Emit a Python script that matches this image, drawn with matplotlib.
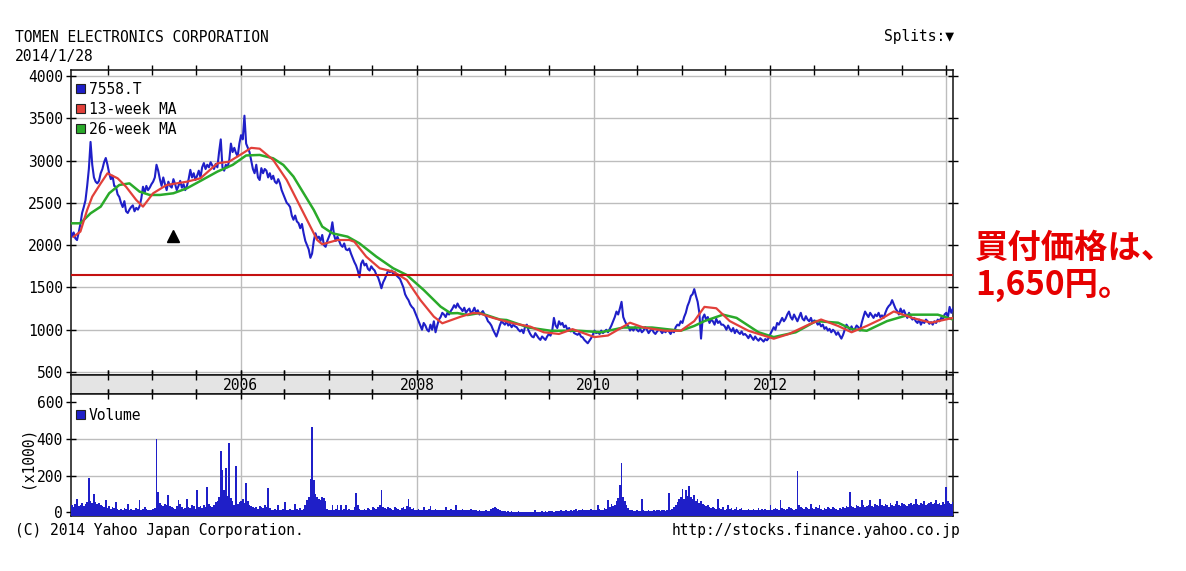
import matplotlib
matplotlib.use("Agg")
import matplotlib.pyplot as plt
import matplotlib.dates as mdates
from matplotlib.patches import Rectangle
import pandas as pd

# ---------------- data ----------------
title = "TOMEN ELECTRONICS CORPORATION"
date_label = "2014/1/28"
ticker = "7558.T"
ma13_label = "13-week MA"
ma26_label = "26-week MA"
volume_label = "Volume"
volume_unit = "(x1000)"
splits_label = "Splits:\u25bc"
copyright_text = "(C) 2014 Yahoo Japan Corporation."
source_text = "http://stocks.finance.yahoo.co.jp"
annotation_lines = ["買付価格は、", "1,650円。"]
offer_price = 1650
end_date = "2014-01-28"
start_date = "2004-01-28"
price_ticks = [500, 1000, 1500, 2000, 2500, 3000, 3500, 4000]
volume_ticks = [0, 200, 400, 600]
volume_grid = [200, 400]
year_labels = ["2006", "2008", "2010", "2012"]
grid_years = [2006, 2008, 2010, 2012, 2014]
split_date = "2005-03-28"
split_level = 2110

# weekly closing prices (yen)
price = [
    2200, 2100, 2150, 2080, 2060, 2150, 2250, 2380, 2450, 2530,
    2700, 2900, 3220, 2950, 2800, 2750, 2730, 2760, 2850, 2900,
    2980, 3030, 2950, 2850, 2780, 2820, 2700, 2690, 2600, 2570,
    2500, 2450, 2520, 2400, 2380, 2420, 2450, 2470, 2400, 2440,
    2420, 2460, 2550, 2690, 2620, 2700, 2650, 2680, 2720, 2750,
    2800, 2950, 2880, 2780, 2700, 2800, 2720, 2650, 2750, 2700,
    2680, 2780, 2720, 2650, 2700, 2760, 2680, 2720, 2650, 2700,
    2780, 2890, 2800, 2850, 2770, 2820, 2880, 2800, 2920, 2970,
    2900, 2950, 2920, 2980, 2940, 2900, 2960, 2920, 3100, 3250,
    2920, 2880, 2950, 2920, 3000, 3200, 3100, 3150, 3090, 3050,
    3200, 3300, 3250, 3530, 3200, 3150, 3100, 3000, 2900, 2850,
    2950, 2800, 2770, 2910, 2850, 2900, 2880, 2800, 2850, 2780,
    2820, 2750, 2730, 2780, 2730, 2650, 2600, 2550, 2500, 2480,
    2450, 2350, 2300, 2350, 2280, 2260, 2200, 2250, 2140, 2050,
    2000, 1950, 1850, 1900, 2050, 2140, 2080, 2100, 2050, 2120,
    2000, 1980, 2050, 2100, 2150, 2270, 2120, 2050, 2100, 2050,
    2000, 1980, 2020, 1950, 1940, 1960, 1900, 1850, 1800, 1760,
    1700, 1620, 1780, 1820, 1760, 1780, 1720, 1700, 1750, 1720,
    1700, 1650, 1620, 1560, 1490, 1560, 1600, 1650, 1700, 1680,
    1700, 1660, 1680, 1640, 1620, 1600, 1550, 1500, 1420, 1380,
    1350, 1300, 1270, 1250, 1200, 1150, 1100, 1050, 1000, 1080,
    1050, 1000, 980, 1060, 1000, 1100, 970, 1050, 1120, 1150,
    1200, 1180, 1150, 1200, 1180, 1220, 1250, 1290, 1260, 1310,
    1270, 1250, 1220, 1260, 1200, 1230, 1250, 1190, 1220, 1260,
    1200, 1230, 1180, 1200, 1220, 1180, 1150, 1100, 1080, 1050,
    1000, 960, 920, 980, 1050, 1100, 1080, 1060, 1100, 1050,
    1070, 1030, 1060, 1040, 1030, 1000, 980, 1000, 960, 1040,
    1060, 990, 950, 920, 910, 960, 930, 900, 880, 920,
    900, 880, 920, 950, 930, 990, 1140, 1050, 1020, 1100,
    1060, 1080, 1030, 1050, 1000, 1020, 980, 1000, 960, 950,
    940, 960, 920, 910, 880, 860, 840, 870, 900, 940,
    990, 960, 970, 950, 990, 960, 980, 1000, 970, 1010,
    1050, 1100, 1150, 1215, 1180, 1250, 1330, 1150, 1100, 1060,
    1040, 990, 1020, 990, 1030, 1000, 980, 1010, 970, 990,
    1030, 1000, 960, 990, 1010, 970, 950, 980, 1000, 990,
    960, 990, 970, 1000, 980, 950, 990, 970, 1030, 1060,
    1050, 1100, 1080, 1150, 1200, 1280, 1330, 1400, 1420, 1480,
    1400, 1330, 1200, 895, 1140, 1180, 1120, 1150, 1080, 1120,
    1100, 1060, 1130, 1080, 1100, 1060, 1060, 1040, 1000, 1050,
    1010, 980, 1020, 960, 1000, 970, 950, 980, 940, 950,
    930, 900, 940, 910, 880, 920, 890, 870, 900, 880,
    860, 890, 875, 900, 950, 990, 1030, 1000, 1080, 1060,
    1100, 1140, 1100, 1130, 1180, 1215, 1150, 1120, 1180, 1140,
    1100, 1150, 1200, 1130, 1110, 1160, 1120, 1100, 1140, 1080,
    1110, 1100, 1060, 1080, 1040, 1060, 1010, 1030, 990, 1010,
    970, 1000, 980, 940, 970, 930, 895, 940, 1000, 1060,
    1030, 1000, 1040, 990, 1010, 1050, 1030, 990, 1080, 1150,
    1215, 1180, 1150, 1200, 1170, 1140, 1180, 1160, 1200, 1150,
    1170, 1140, 1200, 1250, 1280, 1300, 1350, 1300, 1250, 1220,
    1180, 1250, 1200, 1230, 1180, 1140, 1200, 1150, 1120, 1140,
    1100, 1080, 1120, 1060, 1100, 1080, 1120, 1100, 1070, 1090,
    1060, 1100, 1080, 1120, 1100, 1140, 1120, 1180, 1200, 1150,
    1270, 1200, 1250,
]

# weekly volume (x1000 shares)
volume = [
    85, 40, 30, 45, 75, 35, 40, 50, 35, 45,
    55, 186, 60, 50, 100, 55, 45, 50, 40, 35,
    30, 65, 25, 35, 20, 30, 25, 57, 20, 15,
    20, 15, 25, 20, 45, 15, 20, 10, 15, 25,
    20, 66, 15, 20, 30, 20, 15, 10, 15, 20,
    25, 400, 112, 50, 40, 35, 45, 40, 94, 35,
    30, 25, 20, 35, 66, 45, 30, 20, 25, 75,
    30, 25, 40, 35, 20, 121, 30, 35, 25, 40,
    30, 140, 45, 35, 30, 40, 55, 60, 85, 333,
    232, 120, 241, 90, 375, 80, 60, 39, 250, 45,
    57, 60, 70, 50, 158, 60, 40, 35, 30, 25,
    30, 20, 35, 30, 25, 40, 30, 130, 25, 15,
    10, 20, 15, 40, 15, 10, 20, 55, 15, 10,
    20, 15, 10, 45, 20, 15, 25, 10, 20, 40,
    65, 85, 180, 465, 175, 100, 85, 75, 65, 85,
    80, 60, 20, 10, 15, 39, 10, 20, 39, 15,
    39, 10, 20, 39, 15, 20, 10, 15, 30, 103,
    40, 20, 15, 10, 20, 15, 25, 20, 15, 30,
    25, 20, 30, 40, 121, 30, 25, 20, 30, 25,
    20, 15, 30, 25, 20, 15, 25, 30, 20, 35,
    75, 30, 20, 25, 15, 10, 20, 15, 10, 30,
    15, 10, 20, 35, 15, 10, 20, 15, 10, 15,
    10, 15, 30, 10, 15, 20, 10, 15, 40, 10,
    15, 10, 20, 15, 10, 15, 10, 20, 10, 15,
    10, 5, 10, 5, 8, 5, 10, 5, 8, 20,
    25, 30, 25, 20, 10, 5, 8, 5, 3, 5,
    3, 5, 3, 2, 3, 5, 3, 2, 3, 2,
    3, 2, 3, 2, 3, 11, 3, 2, 3, 5,
    3, 5, 3, 5, 8, 5, 3, 5, 8, 5,
    10, 8, 5, 10, 8, 5, 10, 8, 12, 20,
    8, 12, 10, 20, 10, 15, 10, 12, 20, 10,
    15, 10, 39, 20, 15, 10, 25, 20, 66, 30,
    45, 35, 40, 60, 80, 150, 268, 85, 60, 40,
    25, 15, 10, 5, 8, 10, 5, 8, 70, 10,
    8, 5, 10, 8, 5, 10, 8, 12, 10, 8,
    10, 15, 8, 10, 103, 12, 20, 30, 40, 55,
    70, 85, 125, 75, 121, 90, 144, 85, 70, 94,
    60, 75, 50, 60, 45, 40, 35, 40, 30, 25,
    30, 25, 20, 75, 25, 20, 30, 15, 20, 40,
    20, 25, 15, 20, 30, 15, 20, 25, 15, 10,
    15, 20, 10, 15, 20, 10, 15, 25, 15, 20,
    15, 20, 10, 15, 39, 15, 20, 25, 20, 15,
    66, 25, 20, 15, 20, 30, 25, 20, 15, 20,
    226, 40, 30, 25, 20, 30, 25, 20, 48, 25,
    20, 30, 25, 39, 20, 15, 25, 20, 30, 25,
    20, 30, 25, 20, 15, 25, 20, 30, 25, 35,
    30, 112, 35, 30, 25, 40, 35, 30, 66, 40,
    30, 35, 40, 66, 35, 30, 45, 40, 35, 75,
    40, 35, 45, 40, 30, 50, 40, 35, 45, 60,
    40, 35, 50, 45, 40, 35, 45, 50, 40, 45,
    75, 45, 40, 50, 45, 60, 40, 45, 50, 55,
    45, 50, 65, 45, 50, 40, 55, 45, 140, 60,
    50, 45, 55,
]

# moving averages: (week index, value)
ma13_week = [2, 6, 10, 13, 18, 22, 28, 33, 39, 43, 49, 57, 69, 77, 87, 94,
             102, 107, 112, 120, 128, 134, 140, 146, 149, 158, 165, 168, 175,
             183, 191, 199, 207, 215, 220, 231, 238, 242, 250, 262, 272, 280,
             289, 297, 310, 318, 331, 339, 352, 361, 369, 375, 382, 390, 401,
             416, 425, 437, 444, 454, 462, 471, 479, 487, 498, 509, 522]
ma13_value = [2100, 2160, 2416, 2573, 2730, 2849, 2790, 2690, 2534, 2455, 2613,
              2711, 2750, 2790, 2967, 2987, 3086, 3150, 3140, 3007, 2770, 2534,
              2298, 2061, 2010, 2060, 2061, 2040, 1864, 1726, 1687, 1588, 1352,
              1155, 1076, 1155, 1197, 1194, 1140, 1076, 1037, 970, 950, 1007,
              913, 932, 1083, 1026, 988, 988, 1102, 1270, 1254, 1102, 988, 894,
              950, 1064, 1121, 1045, 970, 1045, 1121, 1216, 1140, 1083, 1140]
ma26_week = [1, 6, 12, 18, 23, 29, 35, 41, 47, 53, 61, 69, 78, 87, 96, 104,
             112, 120, 126, 132, 138, 144, 149, 155, 164, 171, 181, 191, 199,
             209, 219, 225, 229, 235, 242, 246, 254, 258, 271, 284, 301, 314,
             327, 344, 361, 369, 375, 386, 394, 407, 416, 429, 441, 454, 462,
             471, 483, 496, 513, 522]
ma26_value = [2258, 2258, 2376, 2455, 2613, 2711, 2730, 2632, 2593, 2593, 2613,
              2672, 2770, 2869, 2948, 3060, 3066, 3026, 2948, 2810, 2613, 2416,
              2219, 2140, 2100, 2021, 1864, 1726, 1647, 1470, 1273, 1194, 1197,
              1174, 1197, 1174, 1121, 1115, 1026, 988, 988, 970, 1026, 1026,
              988, 1045, 1102, 1178, 1140, 970, 913, 970, 1102, 1083, 1007, 988,
              1102, 1178, 1178, 1121]

# ---------------- figure ----------------
W, H = 1186, 571
fig = plt.figure(figsize=(W / 100, H / 100), dpi=100)

MONO = ["DejaVu Sans Mono", "DejaVu Sans"]
FS = 10.5
BLUE = "#1f1fc8"
RED_MA = "#e2403a"
GREEN_MA = "#2aaa2a"
GRID = "#bdbdbd"


def rect(l, t, r, b):
    return [l / W, 1 - b / H, (r - l) / W, (b - t) / H]


def fpos(x, y):
    return x / W, 1 - y / H


dates = pd.date_range(end=end_date, periods=len(price), freq="7D")
ma13_dates = dates[ma13_week]
ma26_dates = dates[ma26_week]
x0, x1 = pd.Timestamp(start_date), pd.Timestamp(end_date)

ax_p = fig.add_axes(rect(70.5, 70, 953, 375))
ax_b = fig.add_axes(rect(70.5, 375, 953, 394))
ax_v = fig.add_axes(rect(70.5, 394, 953, 516))

for ax in (ax_p, ax_b, ax_v):
    ax.set_xlim(x0, x1)
    ax.xaxis.set_major_locator(mdates.MonthLocator(bymonth=[1, 7]))
    ax.tick_params(axis="x", which="both", direction="inout", length=7,
                   width=1, top=True, bottom=True, labelbottom=False)
    for s in ax.spines.values():
        s.set_linewidth(1.1)
        s.set_color("#111111")

# price panel
for y in price_ticks:
    ax_p.axhline(y, color=GRID, lw=1, zorder=0)
for yr in grid_years:
    ax_p.axvline(pd.Timestamp(f"{yr}-01-01"), color=GRID, lw=1, zorder=0)
ax_p.plot(dates, price, color=BLUE, lw=1.5, zorder=3)
ax_p.plot(ma13_dates, ma13_value, color=RED_MA, lw=1.6, zorder=4)
ax_p.plot(ma26_dates, ma26_value, color=GREEN_MA, lw=1.8, zorder=3.5)
ax_p.axhline(offer_price, color="#c41010", lw=1.5, zorder=5)
ax_p.plot(pd.Timestamp(split_date), split_level, marker="^", color="black",
          ms=9, zorder=6)
ax_p.set_ylim(465, 4070)
ax_p.set_yticks(price_ticks)
ax_p.tick_params(axis="y", direction="inout", length=7, width=1, left=True,
                 right=True, labelsize=FS, pad=2)
for lab in ax_p.get_yticklabels():
    lab.set_family(MONO)

# date band
ax_b.set_facecolor("#e4e4e4")
ax_b.set_ylim(0, 1)
ax_b.set_yticks([])
for lab in year_labels:
    ax_b.text(pd.Timestamp(f"{lab}-01-01"), 0.45, lab, ha="center",
              va="center", fontsize=FS, family=MONO)

# volume panel
for y in volume_grid:
    ax_v.axhline(y, color=GRID, lw=1, zorder=0)
for yr in grid_years:
    ax_v.axvline(pd.Timestamp(f"{yr}-01-01"), color=GRID, lw=1, zorder=0)
vol_floor = -20
ax_v.bar(dates, [v - vol_floor for v in volume], bottom=vol_floor, width=7,
         color=BLUE, edgecolor="none", align="center", zorder=3)
ax_v.set_ylim(vol_floor, 644)
ax_v.set_yticks(volume_ticks)
ax_v.tick_params(axis="x", bottom=False)
ax_v.tick_params(axis="y", direction="inout", length=7, width=1, left=True,
                 right=True, labelsize=FS, pad=2)
for lab in ax_v.get_yticklabels():
    lab.set_family(MONO)

# legends (drawn as small squares + text)
legend_rows = [(ticker, BLUE, 88), (ma13_label, RED_MA, 108),
               (ma26_label, GREEN_MA, 128), (volume_label, BLUE, 414)]
for label, col, yc in legend_rows:
    fx, fy = fpos(76, yc + 5)
    fig.add_artist(Rectangle((fx, fy), 9 / W, 9 / H, transform=fig.transFigure,
                             facecolor=col, edgecolor="#222222", lw=0.8,
                             zorder=10))
    tx, ty = fpos(89, yc + 1)
    fig.text(tx, ty, label, ha="left", va="center", fontsize=FS, family=MONO,
             zorder=10)

# header / footer texts
fig.text(*fpos(15, 38), title, ha="left", va="center", fontsize=FS, family=MONO)
fig.text(*fpos(15, 57), date_label, ha="left", va="center", fontsize=FS,
         family=MONO)
fig.text(*fpos(954, 37), splits_label, ha="right", va="center", fontsize=FS,
         family=MONO)
fig.text(*fpos(27, 457), volume_unit, ha="center", va="center", fontsize=FS,
         family=MONO, rotation=90)
fig.text(*fpos(15, 530), copyright_text, ha="left", va="center", fontsize=FS,
         family=MONO)
fig.text(*fpos(960, 530), source_text, ha="right", va="center", fontsize=FS,
         family=MONO)

# red annotation
fig.text(*fpos(975, 248), annotation_lines[0], ha="left", va="center",
         fontsize=24, fontweight="bold", color="#e60000",
         family=["Noto Sans CJK JP", "DejaVu Sans"])
fig.text(*fpos(975, 285), annotation_lines[1], ha="left", va="center",
         fontsize=24, fontweight="bold", color="#e60000",
         family=["Noto Sans CJK JP", "DejaVu Sans"])

fig.savefig("out.png", dpi=100)
